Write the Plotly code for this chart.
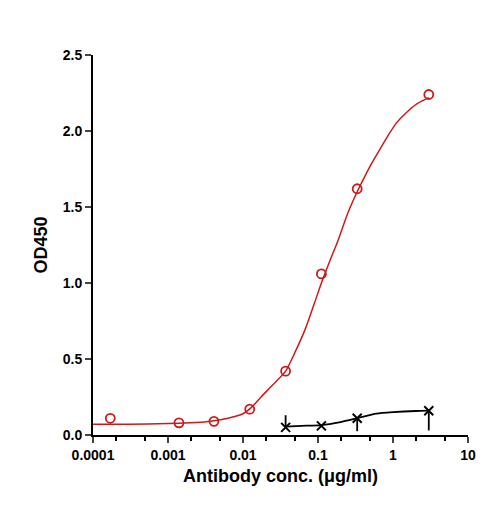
import plotly.graph_objects as go

red_x = [0.00017, 0.0014, 0.0041, 0.0123, 0.037, 0.111, 0.333, 3.0]
red_y = [0.11, 0.08, 0.09, 0.17, 0.42, 1.06, 1.62, 2.24]
red_fit_x = [0.0001, 0.0003, 0.001, 0.002, 0.003, 0.005, 0.0075, 0.01, 0.0135, 0.0174, 0.025, 0.037, 0.05, 0.068, 0.09, 0.111, 0.145, 0.185, 0.25, 0.333, 0.42, 0.51, 0.65, 0.86, 1.1, 1.5, 2.1, 3.0]
red_fit_y = [0.07, 0.07, 0.075, 0.08, 0.085, 0.10, 0.12, 0.14, 0.19, 0.25, 0.33, 0.42, 0.55, 0.70, 0.87, 1.0, 1.15, 1.28, 1.46, 1.60, 1.70, 1.78, 1.87, 1.97, 2.05, 2.12, 2.18, 2.22]

blk_x = [0.037, 0.111, 0.333, 3.0]
blk_y = [0.05, 0.06, 0.11, 0.16]
blk_err_plus = [0.08, 0, 0, 0]
blk_err_minus = [0, 0, 0.085, 0.13]
blk_fit_x = [0.037, 0.06, 0.111, 0.2, 0.333, 0.6, 1.0, 2.0, 3.0]
blk_fit_y = [0.055, 0.06, 0.065, 0.085, 0.11, 0.14, 0.15, 0.158, 0.16]

fig = go.Figure()
fig.add_trace(go.Scatter(x=red_fit_x, y=red_fit_y, mode="lines", line=dict(color="#cc1a1a", width=1.5, shape="spline", smoothing=0.6)))
fig.add_trace(go.Scatter(x=red_x, y=red_y, mode="markers",
                         marker=dict(symbol="circle-open", size=9, color="#cc1a1a", line=dict(width=1.8))))
fig.add_trace(go.Scatter(x=blk_fit_x, y=blk_fit_y, mode="lines", line=dict(color="black", width=1.8, shape="spline", smoothing=0.6)))
fig.add_trace(go.Scatter(x=blk_x, y=blk_y, mode="markers",
                         marker=dict(symbol="x-thin-open", size=9, color="black", line=dict(width=2, color="black")),
                         error_y=dict(type="data", symmetric=False, array=blk_err_plus, arrayminus=blk_err_minus,
                                      color="black", thickness=1.8, width=0)))

font = dict(family="Liberation Sans, Arial", size=15, color="black")
fig.update_layout(
    width=485, height=508, margin=dict(l=85, r=25, t=47, b=81),
    plot_bgcolor="white", paper_bgcolor="white", showlegend=False, font=font,
    xaxis=dict(type="log", range=[-4, 1], showgrid=False, zeroline=False, automargin=False,
               showline=True, linecolor="black", linewidth=2, ticks="outside", ticklen=6, tickwidth=2,
               tickvals=[0.0001, 0.001, 0.01, 0.1, 1, 10],
               ticktext=["<b>0.0001</b>", "<b>0.001</b>", "<b>0.01</b>", "<b>0.1</b>", "<b>1</b>", "<b>10</b>"],
               tickfont=dict(size=14),
               minor=dict(ticks="outside", ticklen=4, tickwidth=1.5, tickcolor="black"),
               title=dict(text="<b>Antibody conc. (μg/ml)</b>", standoff=8)),
    yaxis=dict(range=[0, 2.5], showgrid=False, zeroline=False, automargin=False,
               showline=True, linecolor="black", linewidth=2, ticks="outside", ticklen=6, tickwidth=2,
               tickvals=[0, 0.5, 1, 1.5, 2, 2.5],
               ticktext=["<b>0.0</b>", "<b>0.5</b>", "<b>1.0</b>", "<b>1.5</b>", "<b>2.0</b>", "<b>2.5</b>"],
               tickfont=dict(size=14),
               title=dict(text="<b>OD450</b>", standoff=10)),
)
fig.write_html("out.html")
